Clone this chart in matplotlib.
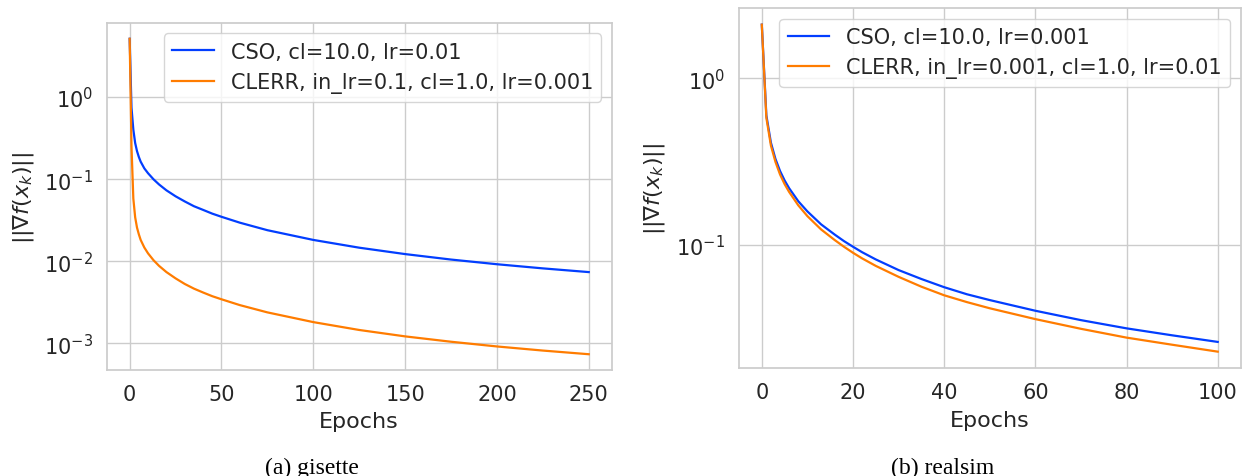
import matplotlib
matplotlib.use("Agg")
import matplotlib.pyplot as plt

# ---------------- data ----------------
gis_epochs = [0, 1, 2, 3, 4, 5, 6, 8, 10, 13, 16, 20, 25, 30, 35, 40, 45,
              50, 60, 75, 100, 125, 150, 175, 200, 225, 250]
gis_cso = [5.1, 0.74, 0.40, 0.275, 0.219, 0.186, 0.163, 0.135, 0.118,
           0.0994, 0.0861, 0.0731, 0.0618, 0.0535, 0.0468, 0.0422, 0.0380,
           0.0348, 0.0295, 0.0239, 0.0182, 0.01464, 0.01224, 0.0105,
           0.00921, 0.0082, 0.00739]
gis_clerr = [5.1, 0.25, 0.058, 0.0343, 0.0257, 0.0213, 0.0182, 0.0147,
             0.0125, 0.0103, 0.0088, 0.0074, 0.0062, 0.0053, 0.00465,
             0.00417, 0.00376, 0.00345, 0.00293, 0.00239, 0.00182, 0.00146,
             0.00122, 0.00105, 0.00092, 0.00082, 0.00074]

real_epochs = [0, 1, 2, 3, 4, 5, 6, 8, 10, 13, 16, 18, 20, 22, 25, 30, 35,
               40, 45, 50, 60, 70, 80, 90, 100]
real_cso = [2.1, 0.60, 0.411, 0.328, 0.278, 0.244, 0.219, 0.183, 0.159,
            0.133, 0.1154, 0.1056, 0.0976, 0.0905, 0.0819, 0.0707, 0.0625,
            0.0558, 0.0506, 0.0467, 0.0403, 0.0354, 0.0316, 0.0287, 0.0262]
real_clerr = [2.1, 0.58, 0.395, 0.315, 0.265, 0.232, 0.208, 0.173, 0.149,
              0.124, 0.107, 0.0977, 0.0898, 0.0831, 0.0749, 0.0644, 0.0562,
              0.0499, 0.0454, 0.0417, 0.0359, 0.0314, 0.0278, 0.0252, 0.0229]

gis_labels = ["CSO, cl=10.0, lr=0.01", "CLERR, in_lr=0.1, cl=1.0, lr=0.001"]
real_labels = ["CSO, cl=10.0, lr=0.001", "CLERR, in_lr=0.001, cl=1.0, lr=0.01"]
gis_xticks = [0, 50, 100, 150, 200, 250]
real_xticks = [0, 20, 40, 60, 80, 100]
captions = ["(a) gisette", "(b) realsim"]
ylabel = r"$||\nabla f(x_k)||$"
xlabel = "Epochs"

# ---------------- style ----------------
BLUE = "#023eff"
ORANGE = "#ff7c00"
GRID = "#cccccc"
TXT = "#262626"

plt.rcParams.update({
    "font.family": ["DejaVu Sans"],
    "mathtext.fontset": "dejavusans",
    "axes.edgecolor": GRID,
    "axes.linewidth": 1.25,
    "grid.color": GRID,
    "grid.linewidth": 1.0,
    "text.color": TXT,
    "axes.labelcolor": TXT,
    "xtick.color": TXT,
    "ytick.color": TXT,
})

W, H = 1243, 477
fig = plt.figure(figsize=(W / 100, H / 100), dpi=100)


def px_axes(l, t, r, b):
    return fig.add_axes([l / W, 1 - b / H, (r - l) / W, (b - t) / H])


ax1 = px_axes(106.7, 24, 611.7, 371)
ax2 = px_axes(739, 9.3, 1240.5, 369)

panels = [
    (ax1, gis_epochs, gis_cso, gis_clerr, gis_labels, gis_xticks, -0.140),
    (ax2, real_epochs, real_cso, real_clerr, real_labels, real_xticks, -0.144),
]

for ax, ep, cso, clerr, labels, xt, ylx in panels:
    ax.plot(ep, cso, color=BLUE, lw=1.6, label=labels[0])
    ax.plot(ep, clerr, color=ORANGE, lw=1.6, label=labels[1])
    ax.set_yscale("log")
    ax.set_xticks(xt)
    ax.yaxis.set_minor_locator(matplotlib.ticker.NullLocator())
    ax.grid(True, which="major")
    ax.set_axisbelow(True)
    ax.tick_params(axis="both", which="both", length=0, labelsize=15, pad=10)
    ax.set_xlabel(xlabel, fontsize=16)
    ax.set_ylabel(ylabel, fontsize=16)
    ax.xaxis.set_label_coords(0.5, -0.117)
    ax.yaxis.set_label_coords(ylx, 0.5)
    ax.legend(loc="upper right", fontsize=15, frameon=True,
              fancybox=True, framealpha=0.8, edgecolor="#cccccc",
              borderaxespad=0.5)
    for sp in ax.spines.values():
        sp.set_color(GRID)
        sp.set_linewidth(1.25)

fig.text(312 / W, 1 - 474 / H, captions[0], ha="center", va="baseline",
         family="Liberation Serif", fontsize=17, color="black")
fig.text(943 / W, 1 - 474 / H, captions[1], ha="center", va="baseline",
         family="Liberation Serif", fontsize=17, color="black")

fig.savefig("out.png", dpi=100)
